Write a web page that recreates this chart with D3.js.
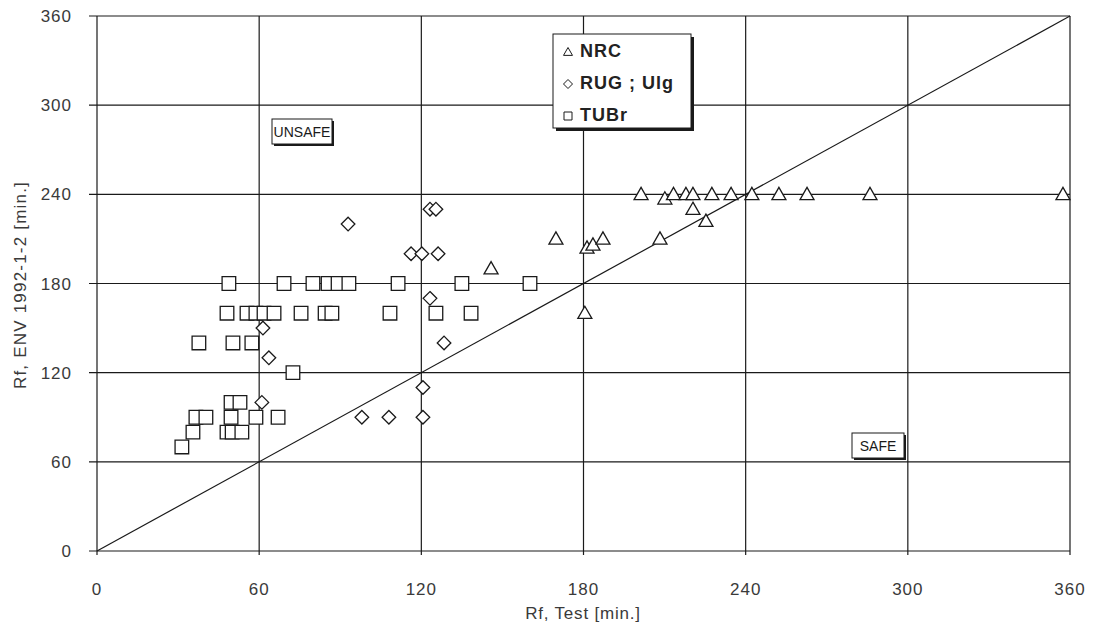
<!DOCTYPE html>
<html>
<head>
<meta charset="utf-8">
<script src="https://cdn.jsdelivr.net/npm/d3@7"></script>
<style>
  body { margin: 0; background: #fff; }
  svg { display: block; font-family: "Liberation Sans", Arial, sans-serif; }
</style>
</head>
<body>
<svg id="chart" width="1097" height="629"></svg>
<script>
/* chart values */
var tickValues = [0, 60, 120, 180, 240, 300, 360];

var nrcX = [145.8, 169.8, 180.5, 181.3, 183.5, 187.2, 208.3, 201.3, 210.1, 213.3, 217.9, 220.5, 220.5, 225.3, 227.5, 234.6, 242.3, 252.3, 262.7, 286, 357.4];
var nrcY = [190, 210, 160, 204, 206, 210, 210, 240, 237, 240, 240, 240, 230, 222, 240, 240, 240, 240, 240, 240, 240];

var rugX = [92.9, 123.2, 125.4, 116.2, 120.2, 126.2, 123.2, 128.4, 61.4, 63.6, 61, 98, 108, 120.6, 120.6];
var rugY = [220, 230, 230, 200, 200, 200, 170, 140, 150, 130, 100, 90, 90, 90, 110];

var tubrX = [48.8, 69.2, 79.9, 85.5, 89.2, 93.2, 111.4, 135, 160.2,
             48.1, 55.5, 58.8, 61.8, 65.5, 75.5, 84.4, 86.9, 108.4, 125.4, 138.4,
             37.7, 50.3, 57.3, 72.5, 49.6, 52.9,
             36.6, 40.3, 49.6, 58.8, 67.0,
             35.5, 48.1, 50, 53.6, 31.4];
var tubrY = [180, 180, 180, 180, 180, 180, 180, 180, 180,
             160, 160, 160, 160, 160, 160, 160, 160, 160, 160, 160,
             140, 140, 140, 120, 100, 100,
             90, 90, 90, 90, 90,
             80, 80, 80, 80, 70];

var seriesNames = ['NRC', 'RUG ; Ulg', 'TUBr'];

var ink = '#1a1a1a';
var labelInk = '#3a3a3a';
var svg = d3.select('#chart');

var x = d3.scaleLinear().domain([0, 360]).range([97, 1070]);
var y = d3.scaleLinear().domain([0, 360]).range([551, 16]);

// grid lines
var grid = svg.append('g');
grid.selectAll('line.v').data(tickValues).enter().append('line')
    .attr('x1', function(d) { return x(d); }).attr('x2', function(d) { return x(d); })
    .attr('y1', y(360)).attr('y2', y(0) + 4)
    .attr('stroke', ink).attr('stroke-width', 1.2);
grid.selectAll('line.h').data(tickValues).enter().append('line')
    .attr('y1', function(d) { return y(d); }).attr('y2', function(d) { return y(d); })
    .attr('x1', x(0) - 8).attr('x2', x(360))
    .attr('stroke', ink).attr('stroke-width', 1.2);

// tick labels
svg.append('g').selectAll('text').data(tickValues).enter().append('text')
    .attr('x', 72).attr('y', function(d) { return y(d) + 6; })
    .attr('text-anchor', 'end').attr('font-size', 17).attr('letter-spacing', 1)
    .attr('fill', labelInk).text(function(d) { return d; });
svg.append('g').selectAll('text').data(tickValues).enter().append('text')
    .attr('x', function(d) { return x(d); }).attr('y', 595)
    .attr('text-anchor', 'middle').attr('font-size', 17).attr('letter-spacing', 1)
    .attr('fill', labelInk).text(function(d) { return d; });

// axis titles
svg.append('text').attr('x', 583).attr('y', 619).attr('text-anchor', 'middle')
    .attr('font-size', 17).attr('letter-spacing', 0.8).attr('fill', labelInk).text('Rf, Test [min.]');
svg.append('text').attr('transform', 'translate(26,285) rotate(-90)').attr('text-anchor', 'middle')
    .attr('font-size', 17).attr('letter-spacing', 1.2).attr('fill', labelInk).text('Rf, ENV 1992-1-2 [min.]');

// diagonal
svg.append('line').attr('x1', x(0)).attr('y1', y(0)).attr('x2', x(360)).attr('y2', y(360))
    .attr('stroke', ink).attr('stroke-width', 1.2);

// marker shapes (r = half width)
function squarePath(r) { return 'M' + (-r) + ',' + (-r) + 'H' + r + 'V' + r + 'H' + (-r) + 'Z'; }
function diamondPath(r) { return 'M0,' + (-r) + 'L' + r + ',0L0,' + r + 'L' + (-r) + ',0Z'; }
function trianglePath(r) { return 'M0,' + (-r) + 'L' + r + ',' + (r * 0.75) + 'L' + (-r) + ',' + (r * 0.75) + 'Z'; }

function drawSeries(xs, ys, path) {
  svg.append('g').selectAll('path').data(xs).enter().append('path')
      .attr('transform', function(d, i) { return 'translate(' + x(d) + ',' + y(ys[i]) + ')'; })
      .attr('d', path)
      .attr('fill', '#fff').attr('stroke', ink).attr('stroke-width', 1.3);
}
drawSeries(tubrX, tubrY, squarePath(6.8));
drawSeries(rugX, rugY, diamondPath(6.8));
drawSeries(nrcX, nrcY, trianglePath(7));

// labelled boxes
function boxLabel(x0, y0, w, h, label) {
  svg.append('rect').attr('x', x0 + 2).attr('y', y0 + 2).attr('width', w).attr('height', h).attr('fill', ink);
  svg.append('rect').attr('x', x0).attr('y', y0).attr('width', w).attr('height', h)
      .attr('fill', '#fff').attr('stroke', ink).attr('stroke-width', 1);
  svg.append('text').attr('x', x0 + w / 2).attr('y', y0 + h / 2 + 5).attr('text-anchor', 'middle')
      .attr('font-size', 14).attr('fill', ink).text(label);
}
boxLabel(272, 119, 60, 25, 'UNSAFE');
boxLabel(852, 433, 52, 25, 'SAFE');

// legend
var legend = svg.append('g');
legend.append('rect').attr('x', 556).attr('y', 37).attr('width', 138).attr('height', 94).attr('fill', ink);
legend.append('rect').attr('x', 553).attr('y', 34).attr('width', 138).attr('height', 94)
    .attr('fill', '#fff').attr('stroke', ink).attr('stroke-width', 1);
var legendPaths = [trianglePath(4.5), diamondPath(4.5), squarePath(4)];
seriesNames.forEach(function(name, i) {
  var cy = 51 + i * 32;
  legend.append('path').attr('transform', 'translate(568,' + (cy + 1) + ')')
      .attr('d', legendPaths[i])
      .attr('fill', '#fff').attr('stroke', ink).attr('stroke-width', 1);
  legend.append('text').attr('x', 580).attr('y', cy + 6).attr('font-size', 18)
      .attr('font-weight', 'bold').attr('letter-spacing', 1)
      .attr('fill', '#222').text(name);
});
</script>
</body>
</html>
